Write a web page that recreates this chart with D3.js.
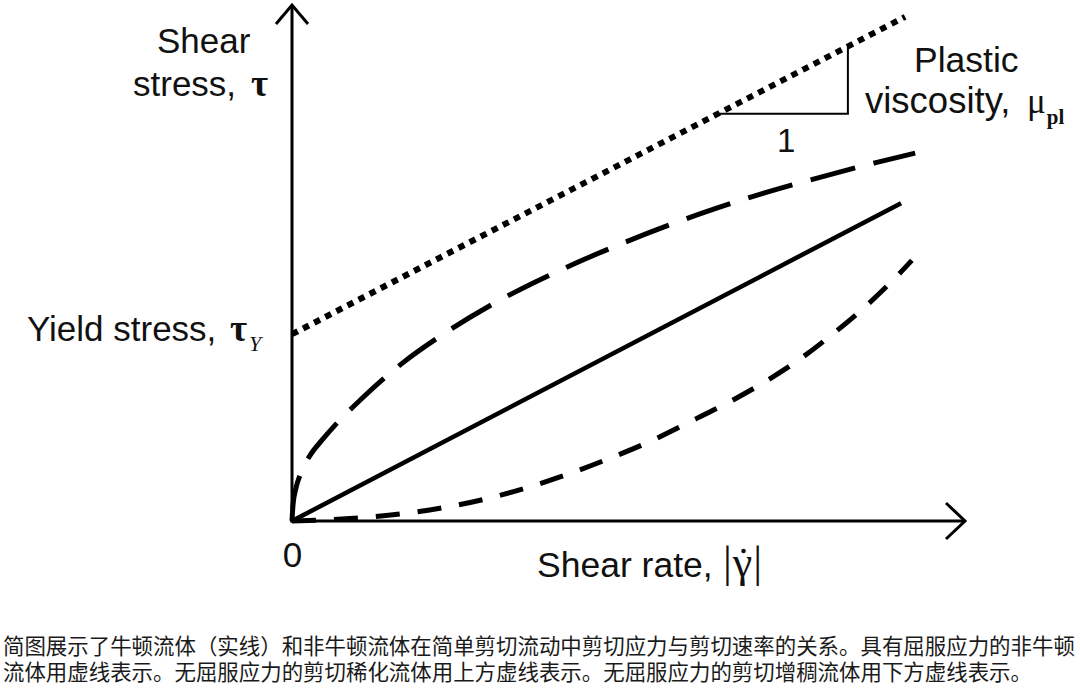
<!DOCTYPE html>
<html>
<head>
<meta charset="utf-8">
<script src="https://cdn.jsdelivr.net/npm/d3@7"></script>
<style>
  body { margin: 0; background: #fff; }
  svg text { font-family: "Liberation Sans", Arial, sans-serif; fill: #111; }
  .greek { font-family: "Liberation Serif", "Times New Roman", serif; }
  .caption { font-family: "Noto Sans CJK SC", sans-serif; font-size: 21.45px; fill: #1a1a1a; }
</style>
</head>
<body>
<svg id="chart"></svg>
<script>
// curves, in arbitrary units (0..100 on each axis)
const binghamLine = [[0, 36.2], [91.1, 97.7]];
const newtonianLine = [[0, 0], [90.5, 61.6]];
const shearThinning = [
    [0, 0], [0.15, 3.1], [0.59, 6.4], [1.19, 8.9], [2.53, 12.4], [4.61, 15.9],
    [6.84, 19.2], [10.1, 23.4], [13.8, 27.8], [16.5, 30.7], [22.0, 35.8],
    [30.6, 42.6], [39.5, 48.4], [48.7, 53.6], [60.6, 59.5], [69.5, 63.3],
    [77.0, 66.1], [86.6, 69.4], [92.6, 71.3]
];
const shearThickening = [
    [0, 0], [4.2, 0.16], [10.5, 0.66], [16.8, 1.47], [23.0, 2.69], [29.1, 4.36],
    [35.4, 6.65], [41.3, 9.21], [47.5, 12.3], [53.5, 15.6], [59.1, 19.2],
    [64.6, 22.8], [70.3, 27.0], [75.5, 31.4], [80.4, 36.3], [85.4, 41.8],
    [90.0, 47.6], [92.1, 50.5]
];
const slopeTriangleX = [63.3, 82.6];
const captionLines = [
    "简图展示了牛顿流体（实线）和非牛顿流体在简单剪切流动中剪切应力与剪切速率的关系。具有屈服应力的非牛顿",
    "流体用虚线表示。无屈服应力的剪切稀化流体用上方虚线表示。无屈服应力的剪切增稠流体用下方虚线表示。"
];

function main() {
    const width = 1080;
    const height = 695;

    const svg = d3.select("#chart").attr("width", width).attr("height", height);

    const x = d3.scaleLinear().domain([0, 100]).range([292, 965]);
    const y = d3.scaleLinear().domain([0, 100]).range([521, 5]);

    drawAxes(svg, x, y);

    const straight = d3.line().x(d => x(d[0])).y(d => y(d[1]));
    const smooth = d3.line().x(d => x(d[0])).y(d => y(d[1])).curve(d3.curveMonotoneX);

    svg.append("path").datum(binghamLine).attr("d", straight)
        .attr("fill", "none").attr("stroke", "#000").attr("stroke-width", 6)
        .attr("stroke-dasharray", "6.5,6");

    svg.append("path").datum(newtonianLine).attr("d", straight)
        .attr("fill", "none").attr("stroke", "#000").attr("stroke-width", 4.5);

    svg.append("path").datum(shearThinning).attr("d", smooth)
        .attr("fill", "none").attr("stroke", "#000").attr("stroke-width", 5)
        .attr("stroke-dasharray", "46,19");

    svg.append("path").datum(shearThickening).attr("d", smooth)
        .attr("fill", "none").attr("stroke", "#000").attr("stroke-width", 5)
        .attr("stroke-dasharray", "24,18");

    // slope triangle under the Bingham line
    const binghamAt = d3.scaleLinear().domain([binghamLine[0][0], binghamLine[1][0]])
        .range([binghamLine[0][1], binghamLine[1][1]]);
    const tri = [
        [slopeTriangleX[0], binghamAt(slopeTriangleX[0])],
        [slopeTriangleX[1], binghamAt(slopeTriangleX[0])],
        [slopeTriangleX[1], binghamAt(slopeTriangleX[1])]
    ];
    svg.append("path").datum(tri).attr("d", straight)
        .attr("fill", "none").attr("stroke", "#000").attr("stroke-width", 2);

    drawLabels(svg);

    const cap = svg.append("text").attr("class", "caption");
    cap.selectAll("tspan").data(captionLines).enter().append("tspan")
        .attr("x", 3)
        .attr("y", (d, i) => 654 + i * 26)
        .text(d => d);
}

function drawAxes(svg, x, y) {
    const g = svg.append("g").attr("stroke", "#000").attr("stroke-width", 3).attr("fill", "none");
    const x0 = x(0), y0 = y(0), xEnd = x(100), yEnd = y(100);

    g.append("line").attr("x1", x0).attr("y1", y0 + 1.5).attr("x2", x0).attr("y2", yEnd);
    g.append("line").attr("x1", x0 - 1.5).attr("y1", y0).attr("x2", xEnd).attr("y2", y0);

    g.append("path").attr("d", `M${x0 - 16},${yEnd + 19} L${x0},${yEnd} L${x0 + 16},${yEnd + 19}`);
    g.append("path").attr("d", `M${xEnd - 19},${y0 - 18} L${xEnd},${y0} L${xEnd - 19},${y0 + 18}`);

    // the single "0" tick at the origin
    svg.append("g")
        .attr("transform", "translate(0," + y0 + ")")
        .call(d3.axisBottom(x).tickValues([0]).tickSize(0).tickPadding(21).tickFormat(d3.format("d")))
        .call(a => a.select(".domain").remove())
        .selectAll("text")
        .attr("font-family", "Liberation Sans, Arial, sans-serif")
        .attr("font-size", 35)
        .attr("fill", "#111");
}

function drawLabels(svg) {
    svg.append("text").attr("x", 157).attr("y", 53).attr("font-size", 35).text("Shear");

    const s = svg.append("text").attr("x", 133).attr("y", 96).attr("font-size", 35);
    s.append("tspan").text("stress,");
    s.append("tspan").attr("class", "greek").attr("x", 251).attr("font-size", 37)
        .attr("font-weight", "bold").text("τ");

    const yl = svg.append("text").attr("x", 27).attr("y", 341).attr("font-size", 35);
    yl.append("tspan").text("Yield stress,");
    yl.append("tspan").attr("class", "greek").attr("x", 230).attr("font-size", 37)
        .attr("font-weight", "bold").text("τ");
    yl.append("tspan").attr("class", "greek").attr("font-size", 22).attr("font-style", "italic")
        .attr("dx", 2).attr("dy", 10).text("Y");

    svg.append("text").attr("x", 914).attr("y", 72).attr("font-size", 35.5).text("Plastic");

    const v = svg.append("text").attr("x", 865).attr("y", 113).attr("font-size", 36.5);
    v.append("tspan").text("viscosity,");
    v.append("tspan").attr("class", "greek").attr("x", 1027).attr("font-size", 35).text("μ");
    v.append("tspan").attr("class", "greek").attr("font-size", 21).attr("font-weight", "bold")
        .attr("dx", 1).attr("dy", 11).text("pl");

    svg.append("text").attr("x", 777).attr("y", 152).attr("font-size", 33).text("1");

    const xl = svg.append("text").attr("x", 537).attr("y", 577).attr("font-size", 35.5);
    xl.append("tspan").text("Shear rate,");
    xl.append("tspan").attr("class", "greek").attr("x", 723).attr("font-size", 44).text("|");
    xl.append("tspan").attr("class", "greek").attr("font-size", 44).attr("dx", 1).text("γ");
    xl.append("tspan").attr("class", "greek").attr("font-size", 44).attr("dx", 1).text("|");

    // dot over gamma (time derivative)
    const idx = "Shear rate,|".length;
    const ext = xl.node().getExtentOfChar(idx);
    svg.append("circle")
        .attr("cx", ext.x + ext.width / 2 + 1)
        .attr("cy", 551)
        .attr("r", 2.3)
        .attr("fill", "#111");
}

main();
</script>
</body>
</html>
